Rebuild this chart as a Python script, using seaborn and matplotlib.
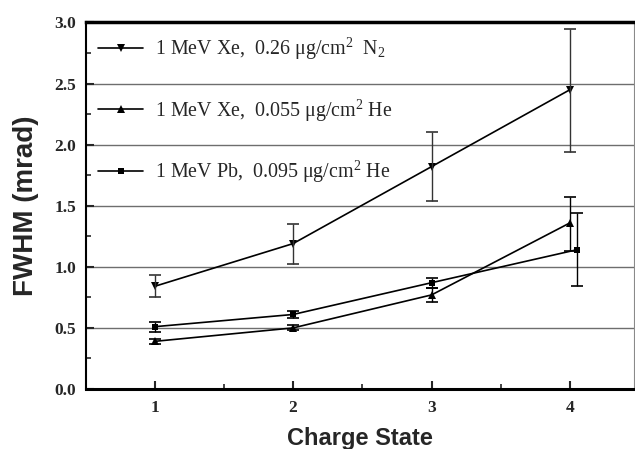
import matplotlib
matplotlib.use("Agg")
import matplotlib.pyplot as plt
from matplotlib.ticker import MultipleLocator
import seaborn as sns
import pandas as pd

# Charge state and FWHM data for the three ion/target combinations
charge = [1, 2, 3, 4]
charge_pb = [1, 2, 3, 4.05]

xe_n2 = [0.84, 1.19, 1.82, 2.45]
xe_n2_lo = [0.75, 1.02, 1.54, 1.94]
xe_n2_hi = [0.93, 1.35, 2.10, 2.95]

xe_he = [0.39, 0.50, 0.77, 1.36]
xe_he_lo = [0.37, 0.48, 0.71, 1.13]
xe_he_hi = [0.41, 0.52, 0.83, 1.57]

pb_he = [0.51, 0.61, 0.87, 1.14]
pb_he_lo = [0.47, 0.58, 0.83, 0.84]
pb_he_hi = [0.55, 0.64, 0.91, 1.44]

labels = [
    r"1 MeV Xe,  0.26 $\mu$g/cm$^2$  N$_2$",
    r"1 MeV Xe,  0.055 $\mu$g/cm$^2$ He",
    r"1 MeV Pb,  0.095 $\mu$g/cm$^2$ He",
]
markers = ["v", "^", "s"]
marker_sizes = [5.5, 5.5, 4.0]

sns.set_theme(style="ticks")
plt.rcParams["font.family"] = ["Liberation Serif", "DejaVu Serif"]
plt.rcParams["mathtext.fontset"] = "custom"
plt.rcParams["mathtext.rm"] = "Liberation Serif"
plt.rcParams["mathtext.it"] = "Liberation Serif"
plt.rcParams["mathtext.default"] = "regular"

series = [
    (labels[0], charge, xe_n2, xe_n2_lo, xe_n2_hi, "#333333"),
    (labels[1], charge, xe_he, xe_he_lo, xe_he_hi, "black"),
    (labels[2], charge_pb, pb_he, pb_he_lo, pb_he_hi, "black"),
]

fig = plt.figure(figsize=(6.35, 4.49), dpi=100)
ax = fig.add_axes([0.1354, 0.1336, 0.8626, 0.8164])

# horizontal reference lines
for yv in [0.5, 1.0, 1.5, 2.0, 2.5]:
    ax.axhline(yv, color="#6e6e6e", lw=1.0, zorder=0)

for (lab, xs, ys, lo, hi, ec), mk, ms in zip(series, markers, marker_sizes):
    df = pd.DataFrame({"Charge State": xs, "FWHM": ys})
    sns.lineplot(data=df, x="Charge State", y="FWHM", color="black",
                 marker=mk, markersize=ms, markeredgewidth=0, lw=1.2,
                 label=lab, sort=False, ax=ax)
    yerr = [[y - l for y, l in zip(ys, lo)], [h - y for y, h in zip(ys, hi)]]
    ax.errorbar(xs, ys, yerr=yerr, fmt="none", ecolor=ec, elinewidth=1.0,
                capsize=4, capthick=1.2)

ax.set_xlim(0.505, 4.46)
ax.set_ylim(0.0, 3.0)
ax.xaxis.set_major_locator(MultipleLocator(1))
ax.xaxis.set_minor_locator(MultipleLocator(0.5))
ax.yaxis.set_major_locator(MultipleLocator(0.5))
ax.yaxis.set_minor_locator(MultipleLocator(0.25))
ax.tick_params(which="major", direction="in", length=6, width=1.5,
               top=False, right=False, labelsize=12.5)
ax.tick_params(axis="y", which="major", pad=7)
ax.tick_params(axis="x", which="major", pad=8)
ax.tick_params(which="minor", direction="in", length=3.5, width=1.2,
               top=False, right=False)
for t in ax.get_xticklabels() + ax.get_yticklabels():
    t.set_fontweight("bold")
    t.set_family(["Liberation Serif"])

ax.set_xlabel("Charge State", fontsize=17, fontweight="bold",
              family=["Liberation Sans"], labelpad=8)
ax.set_ylabel("FWHM (mrad)", fontsize=20, fontweight="bold",
              family=["Liberation Sans"], labelpad=11)

ax.spines["left"].set_linewidth(1.5)
ax.spines["bottom"].set_linewidth(2.2)
ax.spines["top"].set_linewidth(2.5)
ax.spines["right"].set_linewidth(0.8)
ax.spines["right"].set_color("#8a8a8a")
for s in ["left", "bottom", "top"]:
    ax.spines[s].set_color("black")

handles, labs = ax.get_legend_handles_labels()
leg = ax.legend(handles, labs, loc="upper left",
                bbox_to_anchor=(0.142, 0.937), bbox_transform=fig.transFigure,
                frameon=False, fontsize=14.4, handlelength=2.25,
                labelspacing=1.75, handletextpad=0.6, borderaxespad=0)

fig.savefig("out.png", dpi=100)
